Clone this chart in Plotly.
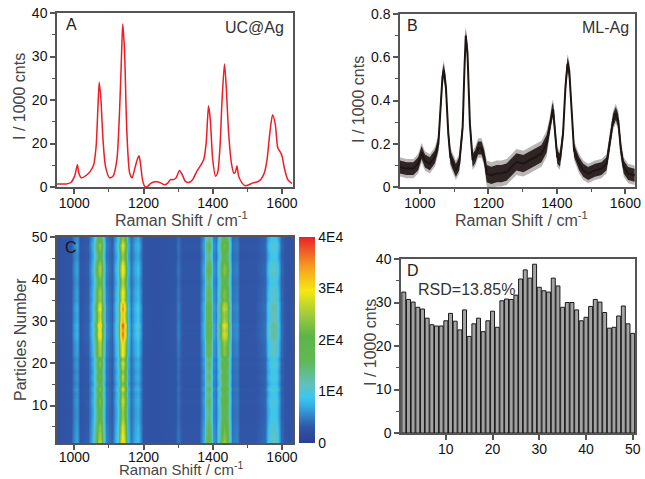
import plotly.graph_objects as go

# ---------------- data ----------------
# Panel A : UC@Ag spectrum (Raman shift cm-1, intensity / 1000 cnts)
A_x = [950, 977, 991, 1001, 1009, 1013, 1020, 1035, 1046, 1056, 1063, 1068, 1072, 1077,
       1083, 1090, 1102, 1112, 1123, 1131, 1137, 1140, 1145, 1152, 1160, 1167, 1174, 1182,
       1187, 1191, 1198, 1205, 1212, 1222, 1237, 1251, 1261, 1270, 1278, 1287, 1294, 1304,
       1312, 1321, 1333, 1342, 1354, 1366, 1374, 1381, 1385, 1388, 1393, 1400, 1408, 1414,
       1421, 1427, 1434, 1439, 1446, 1454, 1461, 1465, 1470, 1475, 1485, 1494, 1504, 1515,
       1530, 1539, 1549, 1557, 1565, 1573, 1581, 1588, 1594, 1600, 1608, 1617, 1629]
A_y = [0.7, 0.7, 1.1, 2.5, 5.1, 3.2, 2.1, 2.7, 3.6, 5.1, 9.3, 17.8, 24.1, 20.0,
       10.9, 4.8, 2.1, 2.5, 6.3, 17.8, 31.6, 37.5, 31.6, 12.4, 3.2, 2.1, 4.0, 6.3,
       7.2, 5.5, 1.3, 0.0, 0.15, 0.9, 1.2, 0.9, 0.5, 0.9, 1.7, 1.7, 2.1, 3.8,
       2.8, 1.3, 1.1, 1.7, 3.6, 5.1, 6.3, 10.1, 15.5, 18.7, 15.5, 6.3, 2.5, 3.2,
       9.3, 20.0, 28.3, 23.1, 12.4, 5.5, 3.2, 3.4, 4.8, 2.5, 0.9, 0.3, 0.5, 0.9,
       1.2, 1.7, 3.2, 6.3, 12.4, 16.6, 14.3, 9.0, 8.2, 7.2, 4.0, 1.7, 0.8]

# Panel B : ML-Ag spectrum (centre line and half-width of the noise band)
B_x = [942, 961, 981, 995, 1005, 1015, 1029, 1044, 1054, 1060, 1066, 1070, 1076, 1083,
       1089, 1097, 1105, 1115, 1125, 1130, 1134, 1139, 1146, 1154, 1161, 1170, 1180, 1188,
       1195, 1209, 1224, 1238, 1253, 1268, 1282, 1302, 1321, 1340, 1355, 1370, 1379, 1386,
       1389, 1395, 1401, 1409, 1418, 1425, 1431, 1436, 1443, 1450, 1457, 1465, 1477, 1491,
       1511, 1530, 1545, 1556, 1564, 1572, 1579, 1587, 1595, 1608, 1627]
B_y = [0.093, 0.085, 0.085, 0.108, 0.16, 0.12, 0.108, 0.14, 0.2, 0.355, 0.51, 0.54, 0.463, 0.247,
       0.139, 0.108, 0.077, 0.108, 0.278, 0.54, 0.70, 0.62, 0.293, 0.124, 0.139, 0.18, 0.18, 0.139,
       0.062, 0.054, 0.062, 0.062, 0.069, 0.093, 0.116, 0.108, 0.124, 0.139, 0.154, 0.2, 0.278, 0.35,
       0.36, 0.247, 0.139, 0.124, 0.247, 0.463, 0.57, 0.54, 0.37, 0.17, 0.139, 0.108, 0.077, 0.062,
       0.077, 0.085, 0.108, 0.216, 0.309, 0.34, 0.309, 0.17, 0.093, 0.062, 0.054]
B_noise = [0.03] * 28 + [0.04] * 12 + [0.03] * 27

# Panel D : intensity of each particle (/ 1000 cnts)
D_particle = list(range(1, 51))
D_val = [32.4, 30.7, 30.1, 28.9, 28.5, 26.4, 24.9, 24.6, 24.6, 25.8,
         27.5, 25.7, 23.7, 28.3, 22.2, 25.1, 26.4, 23.3, 25.8, 28.0,
         24.3, 30.4, 30.8, 30.7, 31.7, 35.4, 37.5, 35.6, 38.8, 33.5,
         32.7, 32.4, 35.6, 33.8, 28.9, 30.0, 30.0, 28.3, 25.8, 26.6,
         29.1, 30.7, 30.1, 27.7, 24.1, 24.3, 26.9, 29.2, 25.1, 22.9]

# Panel C : typical map profile read from the colours (counts), background level
C_x = [950, 990, 1000, 1008, 1016, 1040, 1055, 1062, 1068, 1073, 1078, 1084, 1092, 1110,
       1125, 1132, 1138, 1142, 1148, 1155, 1165, 1175, 1183, 1190, 1198, 1230, 1290, 1300,
       1310, 1360, 1375, 1382, 1388, 1394, 1400, 1410, 1420, 1427, 1434, 1440, 1447, 1455,
       1470, 1480, 1520, 1550, 1560, 1567, 1575, 1583, 1590, 1598, 1610, 1632]
C_level = [2500, 3000, 5500, 6500, 3000, 3500, 8000, 15000, 22000, 24000, 22000, 12000, 5000, 3500,
           10000, 22000, 28000, 28000, 20000, 8000, 4500, 7000, 8000, 6000, 3000, 2500, 3000, 4500,
           3000, 3000, 7000, 14000, 17000, 13000, 6000, 5000, 13000, 20000, 22000, 20000, 12000, 4500,
           5000, 3000, 3000, 4000, 8000, 10000, 10500, 10000, 8000, 4000, 3000, 2500]
C_bg = 2500

D_mean = sum(D_val) / len(D_val)
C_z = [[C_bg + (c - C_bg) * d / D_mean for c in C_level] for d in D_val]

CB_vals = [0, 10000, 20000, 30000, 40000]
CB_text = ['0', '1E4', '2E4', '3E4', '4E4']

# ---------------- figure ----------------
W, H = 645, 479
FONT = 'Liberation Sans, Arial, sans-serif'


def px(x):
    return x / W


def py(y):
    return 1 - y / H


fig = go.Figure()

fig.add_trace(go.Scatter(x=A_x, y=A_y, mode='lines',
                         line=dict(color='#ee1c24', width=1.5, shape='spline', smoothing=0.7),
                         xaxis='x', yaxis='y'))

band_x = B_x + B_x[::-1]
outer_y = [y + w * 1.5 for y, w in zip(B_y, B_noise)] + [y - w * 1.5 for y, w in zip(B_y, B_noise)][::-1]
inner_y = [y + w for y, w in zip(B_y, B_noise)] + [y - w for y, w in zip(B_y, B_noise)][::-1]
fig.add_trace(go.Scatter(x=band_x, y=outer_y, fill='toself', mode='lines',
                         line=dict(width=0), fillcolor='rgba(120,110,110,0.5)',
                         xaxis='x2', yaxis='y2'))
fig.add_trace(go.Scatter(x=band_x, y=inner_y, fill='toself', mode='lines',
                         line=dict(width=0), fillcolor='rgba(35,25,24,0.92)',
                         xaxis='x2', yaxis='y2'))
fig.add_trace(go.Scatter(x=B_x, y=B_y, mode='lines',
                         line=dict(color='#1e1615', width=2),
                         xaxis='x2', yaxis='y2'))

colorscale = [[0.0, '#2c3e94'], [0.08, '#3157a8'], [0.17, '#34a5e0'], [0.22, '#3cc6ef'],
              [0.28, '#61c1c0'], [0.40, '#62b854'], [0.52, '#5db548'], [0.62, '#9fcb3c'],
              [0.74, '#f6e712'], [0.86, '#f59a20'], [1.0, '#e8212b']]
fig.add_trace(go.Heatmap(x=C_x, y=D_particle, z=C_z, zmin=0, zmax=40000,
                         colorscale=colorscale, zsmooth='best',
                         xaxis='x3', yaxis='y3',
                         colorbar=dict(x=px(299), xanchor='left', xref='paper',
                                       y=py(443), yanchor='bottom', yref='paper',
                                       len=(443 - 237) / H, lenmode='fraction',
                                       thickness=16, thicknessmode='pixels',
                                       outlinewidth=0, xpad=0, ypad=0,
                                       tickvals=CB_vals, ticktext=CB_text, ticks='',
                                       tickfont=dict(family=FONT, size=14, color='#111'))))

fig.add_trace(go.Bar(x=D_particle, y=D_val,
                     marker=dict(color='#a3a3a3', line=dict(color='#1a1a1a', width=1)),
                     xaxis='x4', yaxis='y4'))

axis_common = dict(showline=True, linecolor='#555', linewidth=1.5, mirror=True,
                   ticks='outside', ticklen=5, tickwidth=1.5, tickcolor='#555',
                   showgrid=False, zeroline=False, automargin=False,
                   tickfont=dict(family=FONT, size=14, color='#111'))
xaxis_common = dict(axis_common, ticklabelstandoff=-3)
xminor = dict(ticks='outside', ticklen=3, tickwidth=1.2, tickcolor='#555', dtick=100, tick0=1000)


def yminor(vals):
    return dict(ticks='outside', ticklen=3, tickwidth=1.2, tickcolor='#555',
                tickmode='array', tickvals=vals)


fig.update_layout(
    width=W, height=H, margin=dict(l=0, r=0, t=0, b=0, pad=0, autoexpand=False),
    paper_bgcolor='white', plot_bgcolor='white', showlegend=False, bargap=0.15,
    xaxis=dict(xaxis_common, domain=[px(57), px(293)], range=[950, 1632], anchor='y',
               tickmode='array', tickvals=[1000, 1200, 1400, 1600], minor=xminor),
    yaxis=dict(axis_common, domain=[py(187), py(13)], range=[0, 40], anchor='x',
               tickmode='array', tickvals=[0, 10, 20, 30, 40],
               ticktext=['0', '20', '20', '30', '40'], minor=yminor([5, 15, 25, 35])),
    xaxis2=dict(xaxis_common, domain=[px(400), px(635)], range=[942, 1628], anchor='y2',
                tickmode='array', tickvals=[1000, 1200, 1400, 1600], minor=xminor),
    yaxis2=dict(axis_common, domain=[py(187), py(14)], range=[0, 0.8], anchor='x2',
                tickmode='array', tickvals=[0, 0.2, 0.4, 0.6, 0.8],
                ticktext=['0', '0.2', '0.4', '0.6', '0.8'], minor=yminor([0.1, 0.3, 0.5, 0.7])),
    xaxis3=dict(xaxis_common, domain=[px(57), px(293)], range=[950, 1632], anchor='y3',
                ticklabelstandoff=-5,
                tickmode='array', tickvals=[1000, 1200, 1400, 1600], minor=xminor),
    yaxis3=dict(axis_common, domain=[py(443), py(237)], range=[1.1, 50], anchor='x3',
                tickmode='array', tickvals=[10, 20, 30, 40, 50], minor=yminor([5, 15, 25, 35, 45])),
    xaxis4=dict(xaxis_common, domain=[px(401), px(635)], range=[0.4, 50.5], anchor='y4',
                tickmode='array', tickvals=[10, 20, 30, 40, 50]),
    yaxis4=dict(axis_common, domain=[py(433), py(259)], range=[0, 40], anchor='x4',
                tickmode='array', tickvals=[0, 10, 20, 30, 40], minor=yminor([5, 15, 25, 35])),
)


def note(text, x, y, xanchor='center', yanchor='middle', size=16, color='#222', angle=0):
    fig.add_annotation(text=text, x=px(x), y=py(y), xref='paper', yref='paper',
                       xanchor=xanchor, yanchor=yanchor, showarrow=False, textangle=angle,
                       font=dict(family=FONT, size=size, color=color), borderpad=0)


TITLE_C = '#454545'
note('Raman Shift / cm<sup>-1</sup>', 181, 230, yanchor='bottom', size=16, color=TITLE_C)
note('Raman Shift / cm<sup>-1</sup>', 521, 230, yanchor='bottom', size=16, color=TITLE_C)
note('Raman Shift / cm<sup>-1</sup>', 181, 479, yanchor='bottom', size=15, color=TITLE_C)
note('I / 1000 cnts', 20, 97, size=16, color=TITLE_C, angle=-90)
note('I / 1000 cnts', 358, 100, size=16, color=TITLE_C, angle=-90)
note('I / 1000 cnts', 370, 343, size=16, color=TITLE_C, angle=-90)
note('Particles Number', 20, 340, size=16, color=TITLE_C, angle=-90)

note('A', 71, 24, size=16)
note('UC@Ag', 285, 28, xanchor='right', size=16, color='#333')
note('B', 412.5, 25, size=16)
note('ML-Ag', 630, 28, xanchor='right', size=16, color='#333')
note('C', 71, 248, size=16, color='#151515')
note('D', 413, 270, size=16)
note('RSD=13.85%', 416.5, 289, xanchor='left', size=16, color='#333')

fig.write_html('out.html', config={'displayModeBar': False},
               post_script="document.body.style.margin='0';document.body.style.overflow='hidden';")
